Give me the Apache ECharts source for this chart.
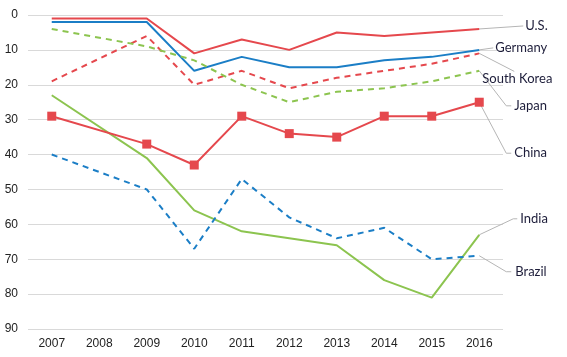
<!DOCTYPE html>
<html><head><meta charset="utf-8">
<script src="https://cdn.jsdelivr.net/npm/echarts@6/dist/echarts.min.js"></script>
<style>html,body{margin:0;padding:0;background:#fff}#c{width:567px;height:357px}</style>
</head><body><div id="c"></div>
<script>
const years = ['2007','2008','2009','2010','2011','2012','2013','2014','2015','2016'];
const us          = [1, null, 1, 11, 7, 10, 5, 6, 5, 4];
const germany     = [2, null, 2, 16, 12, 15, 15, 13, 12, 10];
const japan       = [19, null, 6, 20, 16, 21, 18, 16, 14, 11];
const southKorea  = [4, null, 9, 13, 20, 25, 22, 21, 19, 16];
const china       = [29, null, 37, 43, 29, 34, 35, 29, 29, 25];
const india       = [23, null, 41, 56, 62, 64, 66, 76, 81, 63];
const brazil      = [40, null, 50, 67, 47, 58, 64, 61, 70, 69];

const RED = '#e5484d', BLUE = '#1b7ec6', GREEN = '#8cc44f';

const chart = echarts.init(document.getElementById('c'), null, {renderer: 'canvas'});
function mk(name, data, color, dashed, marker) {
  return {
    name, type: 'line', data, connectNulls: true,
    symbol: marker ? 'rect' : 'none', symbolSize: 9,
    itemStyle: {color},
    lineStyle: {color, width: 2, type: dashed ? [6, 5] : 'solid'},
    emphasis: {disabled: true}, animation: false, z: marker ? 5 : 3
  };
}
chart.setOption({
  animation: false,
  grid: {left: 28, right: 64, top: 15, bottom: 28},
  xAxis: {
    type: 'category', data: years, boundaryGap: true,
    axisLine: {show: false}, axisTick: {show: false},
    axisLabel: {color: '#222', fontSize: 12, fontFamily: 'Liberation Sans', margin: 9}
  },
  yAxis: {
    type: 'value', inverse: true, min: 0, max: 90, interval: 10,
    axisLine: {show: false}, axisTick: {show: false},
    axisLabel: {color: '#222', fontSize: 12, fontFamily: 'Liberation Sans', margin: 10},
    splitLine: {lineStyle: {color: '#d9d9d9', width: 1}}
  },
  series: [
    mk('U.S.', us, RED, false, false),
    mk('Germany', germany, BLUE, false, false),
    mk('Japan', japan, RED, true, false),
    mk('South Korea', southKorea, GREEN, true, false),
    mk('China', china, RED, false, true),
    mk('India', india, GREEN, false, false),
    mk('Brazil', brazil, BLUE, true, false)
  ]
});

// annotation layout: [label, series data used as anchor, elbow dx, dy, tail dx, text dx, text dy, align]
const ann = [
  ['U.S.', us, 44, -3, 0, 46, -3, 'left'],
  ['Germany', germany, 14, -2, 0, 16, -2, 'left'],
  ['South Korea', japan, 35, 18, 0, 3, 25, 'left'],
  ['Japan', southKorea, 27, 35, 5, 35, 35, 'left'],
  ['China', china, 27, 51, 5, 35, 51, 'left'],
  ['India', india, 34, -16, 4, 41, -16, 'left'],
  ['Brazil', brazil, 27, 16, 5, 36, 16, 'left']
];
const last = years.length - 1;
const g = [];
ann.forEach(a => {
  const p = chart.convertToPixel({gridIndex: 0}, [last, a[1][last]]);
  const pts = [[p[0], p[1]], [p[0] + a[2], p[1] + a[3]]];
  if (a[4]) pts.push([p[0] + a[2] + a[4], p[1] + a[3]]);
  g.push({type: 'polyline', shape: {points: pts}, style: {stroke: '#b5b5b5', lineWidth: 1, fill: null}, z: 1, silent: true});
  g.push({type: 'text', x: p[0] + a[5], y: p[1] + a[6],
    style: {text: a[0], fill: '#1d1d3a', font: '13px Lato', textAlign: a[7], textVerticalAlign: 'middle'}, z: 10});
});
chart.setOption({graphic: g});
</script></body></html>
